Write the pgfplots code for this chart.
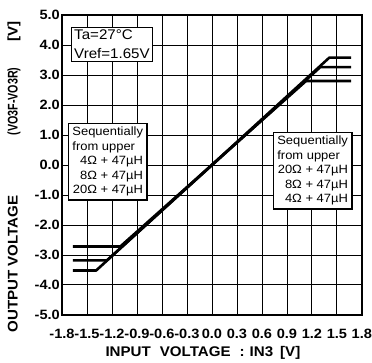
\documentclass[border=0pt]{standalone}
\usepackage{fontspec}
\setmainfont{Liberation Sans}[FakeStretch=1.08]
\usepackage{pgfplots}
\pgfplotsset{compat=1.18}
\begin{document}
\begin{tikzpicture}
\begin{axis}[
    width=300pt, height=300pt, scale only axis,
    xmin=-1.8, xmax=1.8, ymin=-5, ymax=5,
    xtick={-1.8,-1.5,-1.2,-0.9,-0.6,-0.3,0,0.3,0.6,0.9,1.2,1.5,1.8},
    xticklabels={-1.8,-1.5,-1.2,-0.9,-0.6,-0.3,0.0,0.3,0.6,0.9,1.2,1.5,1.8},
    ytick={-5,-4,-3,-2,-1,0,1,2,3,4,5},
    yticklabels={-5.0,-4.0,-3.0,-2.0,-1.0,0.0,1.0,2.0,3.0,4.0,5.0},
    grid=major,
    grid style={black, line width=0.8pt},
    major tick length=0pt,
    axis line style={line width=1.4pt},
    tick label style={font=\fontsize{13.5}{14}\selectfont\bfseries},
    xticklabel style={yshift=-11pt, inner xsep=0pt},
    yticklabel style={inner xsep=2pt},
    xlabel={INPUT\hspace{9pt}VOLTAGE\hspace{9pt}:\hspace{5pt}IN3\hspace{7pt}[V]},
    xlabel style={at={(axis description cs:0.47,-0.127)}, anchor=center, font=\fontsize{14}{14}\selectfont\bfseries},
    ylabel={OUTPUT VOLTAGE\hspace{60pt}\scalebox{0.71}[1]{(VO3F-VO3R)}\hspace{26pt}[V]},
    ylabel style={at={(axis description cs:-0.16,0.46)}, anchor=center, rotate=0, font=\fontsize{14}{14}\selectfont\bfseries},
    clip=false,
]
\path (axis description cs:-0.2067,1.05) rectangle (axis description cs:1.0333,-0.16);

% 4 ohm + 47uH
\addplot[black, line width=2.6pt, line join=round] coordinates {
    (-1.67,-2.72) (-1.10,-2.72) (1.13,2.80) (1.67,2.80)
};
% 8 ohm + 47uH
\addplot[black, line width=2.6pt, line join=round] coordinates {
    (-1.67,-3.18) (-1.26,-3.18) (1.30,3.26) (1.67,3.26)
};
% 20 ohm + 47uH
\addplot[black, line width=2.6pt, line join=round] coordinates {
    (-1.67,-3.52) (-1.39,-3.52) (1.41,3.58) (1.67,3.58)
};

\node[draw, line width=1.2pt, fill=white, anchor=north west, align=left, inner sep=2.5pt,
      font=\fontsize{14}{19}\selectfont] at (axis cs:-1.69,4.6) {Ta=27°C\\Vref=1.65V};

\node[draw, line width=1.2pt, fill=white, anchor=north west, inner xsep=4pt, inner ysep=2pt,
      font=\fontsize{12}{14.5}\selectfont] at (axis cs:-1.73,1.4)
  {\begin{tabular}{@{}r@{}}
   \multicolumn{1}{@{}l@{}}{Sequentially}\\
   \multicolumn{1}{@{}l@{}}{from upper}\\
   4Ω + 47µH\\
   8Ω + 47µH\\
   20Ω + 47µH
   \end{tabular}};

\node[draw, line width=1.2pt, fill=white, anchor=north west, inner xsep=4pt, inner ysep=2pt,
      font=\fontsize{12}{14.5}\selectfont] at (axis cs:0.73,1.1)
  {\begin{tabular}{@{}r@{}}
   \multicolumn{1}{@{}l@{}}{Sequentially}\\
   \multicolumn{1}{@{}l@{}}{from upper}\\
   20Ω + 47µH\\
   8Ω + 47µH\\
   4Ω + 47µH
   \end{tabular}};
\end{axis}
\end{tikzpicture}
\end{document}
